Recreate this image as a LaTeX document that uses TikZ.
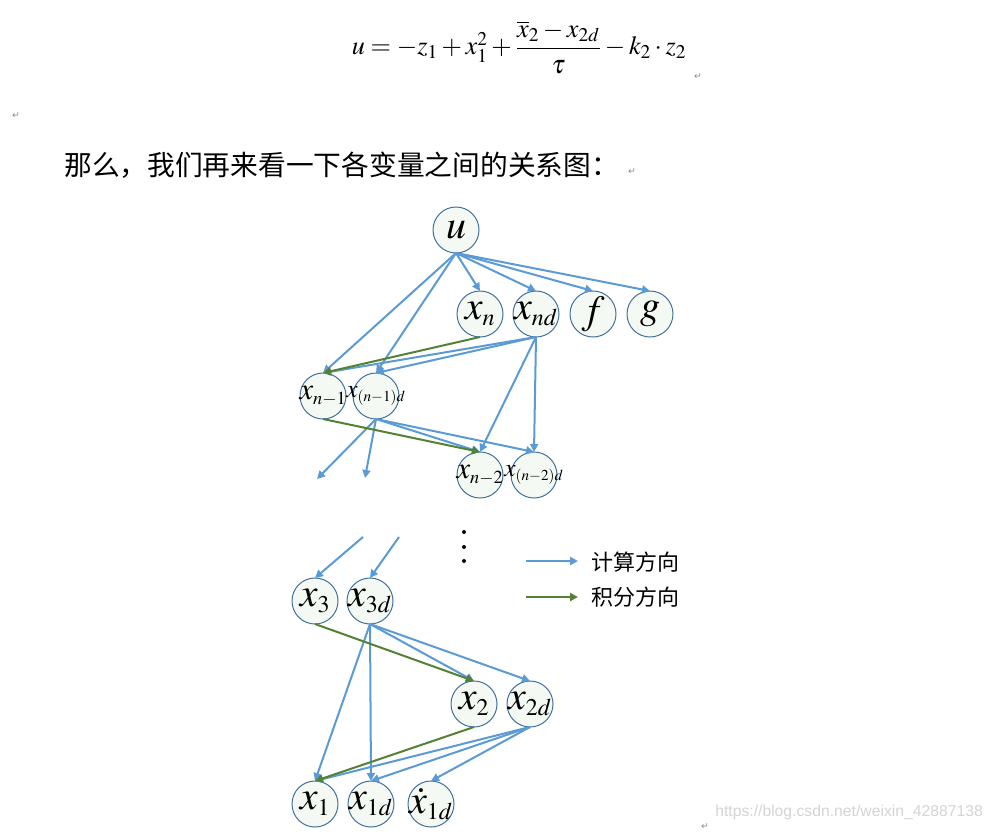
\documentclass[tikz,border=0pt]{standalone}
\usepackage{amsmath}
\usepackage[no-math]{fontspec}
\usepackage{mathptmx}
\usetikzlibrary{arrows.meta}
\newfontfamily\cjk{Noto Sans CJK SC}
\newfontfamily\symfont{DejaVu Sans}
\newfontfamily\urlfont{Liberation Sans}
\newcommand{\varlabel}[1]{\makebox[0pt]{$#1$}}
\newcommand{\vsub}[1]{_{\scriptscriptstyle #1}}

\tikzset{
  var/.style={circle,draw=circColor,line width=0.75pt,fill=nodeFill,minimum size=34.5pt,inner sep=0pt,outer sep=0pt,font=\fontsize{30}{34}\selectfont},
  varmid/.style={var,font=\fontsize{23}{27}\selectfont},
  varsmall/.style={var,font=\fontsize{19}{22}\selectfont},
  calc/.style={draw=calcColor,line width=1.5pt,-{Triangle[length=6pt,width=6pt]}},
  integ/.style={draw=integColor,line width=1.5pt,-{Triangle[length=6pt,width=6pt]}},
  retmark/.style={text=retColor,inner sep=0pt,font=\symfont\fontsize{7}{8}\selectfont}
}

\begin{document}
\begin{tikzpicture}[x=0.75pt,y=-0.75pt]
\definecolor{calcColor}{RGB}{91,155,213}
\definecolor{integColor}{RGB}{84,130,53}
\definecolor{circColor}{RGB}{65,113,156}
\definecolor{nodeFill}{RGB}{244,250,243}
\definecolor{retColor}{RGB}{140,140,140}
\definecolor{urlColor}{RGB}{212,212,212}
\path[use as bounding box,fill=white] (0,0) rectangle (996,836);

\node[inner sep=0pt,font=\fontsize{19.7}{24}\selectfont] (eq) at (519,47) {$u=-z_1+x_1^2+\dfrac{\overline{x}_2-x_{2d}}{\tau}-k_2\cdot z_2$};
\node[retmark] (r1) at (698,77) {↵};
\node[retmark] (r2) at (16,116) {↵};
\node[anchor=west,inner sep=0pt,font=\cjk\fontsize{20.8}{24}\selectfont] (intro) at (64,165) {那么，我们再来看一下各变量之间的关系图：};
\node[retmark] (r3) at (632,172) {↵};

\node[var] (u) at (456,230) {\varlabel{u}};
\node[var] (xn) at (480,314) {\varlabel{x\vsub{n}}};
\node[var] (xnd) at (536,314) {\varlabel{x\vsub{nd}}};
\node[var] (f) at (593,314) {\varlabel{f}};
\node[var] (g) at (650,314) {\varlabel{g}};
\node[varmid] (xnm1) at (323,396) {\varlabel{x\vsub{n-1}}};
\node[varsmall] (xnm1d) at (376,396) {\varlabel{x\vsub{(n-1)d}}};
\node[varmid] (xnm2) at (480,475) {\varlabel{x\vsub{n-2}}};
\node[varsmall] (xnm2d) at (534,475) {\varlabel{x\vsub{(n-2)d}}};
\node[var] (xthree) at (315,601) {\varlabel{x\vsub{3}}};
\node[var] (xthreed) at (370,601) {\varlabel{x\vsub{3d}}};
\node[var] (xtwo) at (474,704) {\varlabel{x\vsub{2}}};
\node[var] (xtwod) at (530,704) {\varlabel{x\vsub{2d}}};
\node[var] (xone) at (315,804) {\varlabel{x\vsub{1}}};
\node[var] (xoned) at (371,804) {\varlabel{x\vsub{1d}}};
\node[var] (xonedot) at (431,804) {\varlabel{\dot{x}\vsub{1d}}};

\coordinate (endA) at (317,479);
\coordinate (endB) at (365,478);
\coordinate (startA) at (363,537);
\coordinate (startB) at (399,537);

\path[calc] (u.south) -- (xn.north);
\path[calc] (u.south) -- (xnd.north);
\path[calc] (u.south) -- (f.north);
\path[calc] (u.south) -- (g.north);
\path[calc] (u.south) -- (xnm1.north);
\path[calc] (u.south) -- (xnm1d.north);

\path[calc] (xnd.south) -- (xnm1.north);
\path[calc] (xnd.south) -- (xnm1d.north);
\path[calc] (xnd.south) -- (xnm2.north);
\path[calc] (xnd.south) -- (xnm2d.north);
\path[integ] (xn.south) -- (xnm1.north);

\path[calc] (xnm1d.south) -- (xnm2.north);
\path[calc] (xnm1d.south) -- (xnm2d.north);
\path[calc] (xnm1d.south) -- (endA);
\path[calc] (xnm1d.south) -- (endB);
\path[integ] (xnm1.south) -- (xnm2.north);

\path[calc] (startA) -- (xthree.north);
\path[calc] (startB) -- (xthreed.north);

\path[calc] (xthreed.south) -- (xtwo.north);
\path[calc] (xthreed.south) -- (xtwod.north);
\path[calc] (xthreed.south) -- (xone.north);
\path[calc] (xthreed.south) -- (xoned.north);
\path[integ] (xthree.south) -- (xtwo.north);

\path[calc] (xtwod.south) -- (xone.north);
\path[calc] (xtwod.south) -- (xoned.north);
\path[calc] (xtwod.south) -- (xonedot.north);
\path[integ] (xtwo.south) -- (xone.north);

\fill (464,532) circle (2);
\fill (464,547) circle (2);
\fill (464,561) circle (2);

\coordinate (calcA) at (526,561);
\coordinate (calcB) at (578,561);
\coordinate (integA) at (526,597);
\coordinate (integB) at (578,597);
\path[calc] (calcA) -- (calcB);
\path[integ] (integA) -- (integB);
\node[anchor=west,inner sep=0pt,font=\cjk\fontsize{16.5}{20}\selectfont] (calcText) at (591,562) {计算方向};
\node[anchor=west,inner sep=0pt,font=\cjk\fontsize{16.5}{20}\selectfont] (integText) at (591,597) {积分方向};

\node[anchor=west,inner sep=0pt,text=urlColor,font=\urlfont\fontsize{11.8}{14}\selectfont] (url) at (715,812) {https://blog.csdn.net/weixin\_42887138};
\node[retmark] (r4) at (705,827) {↵};
\end{tikzpicture}
\end{document}
